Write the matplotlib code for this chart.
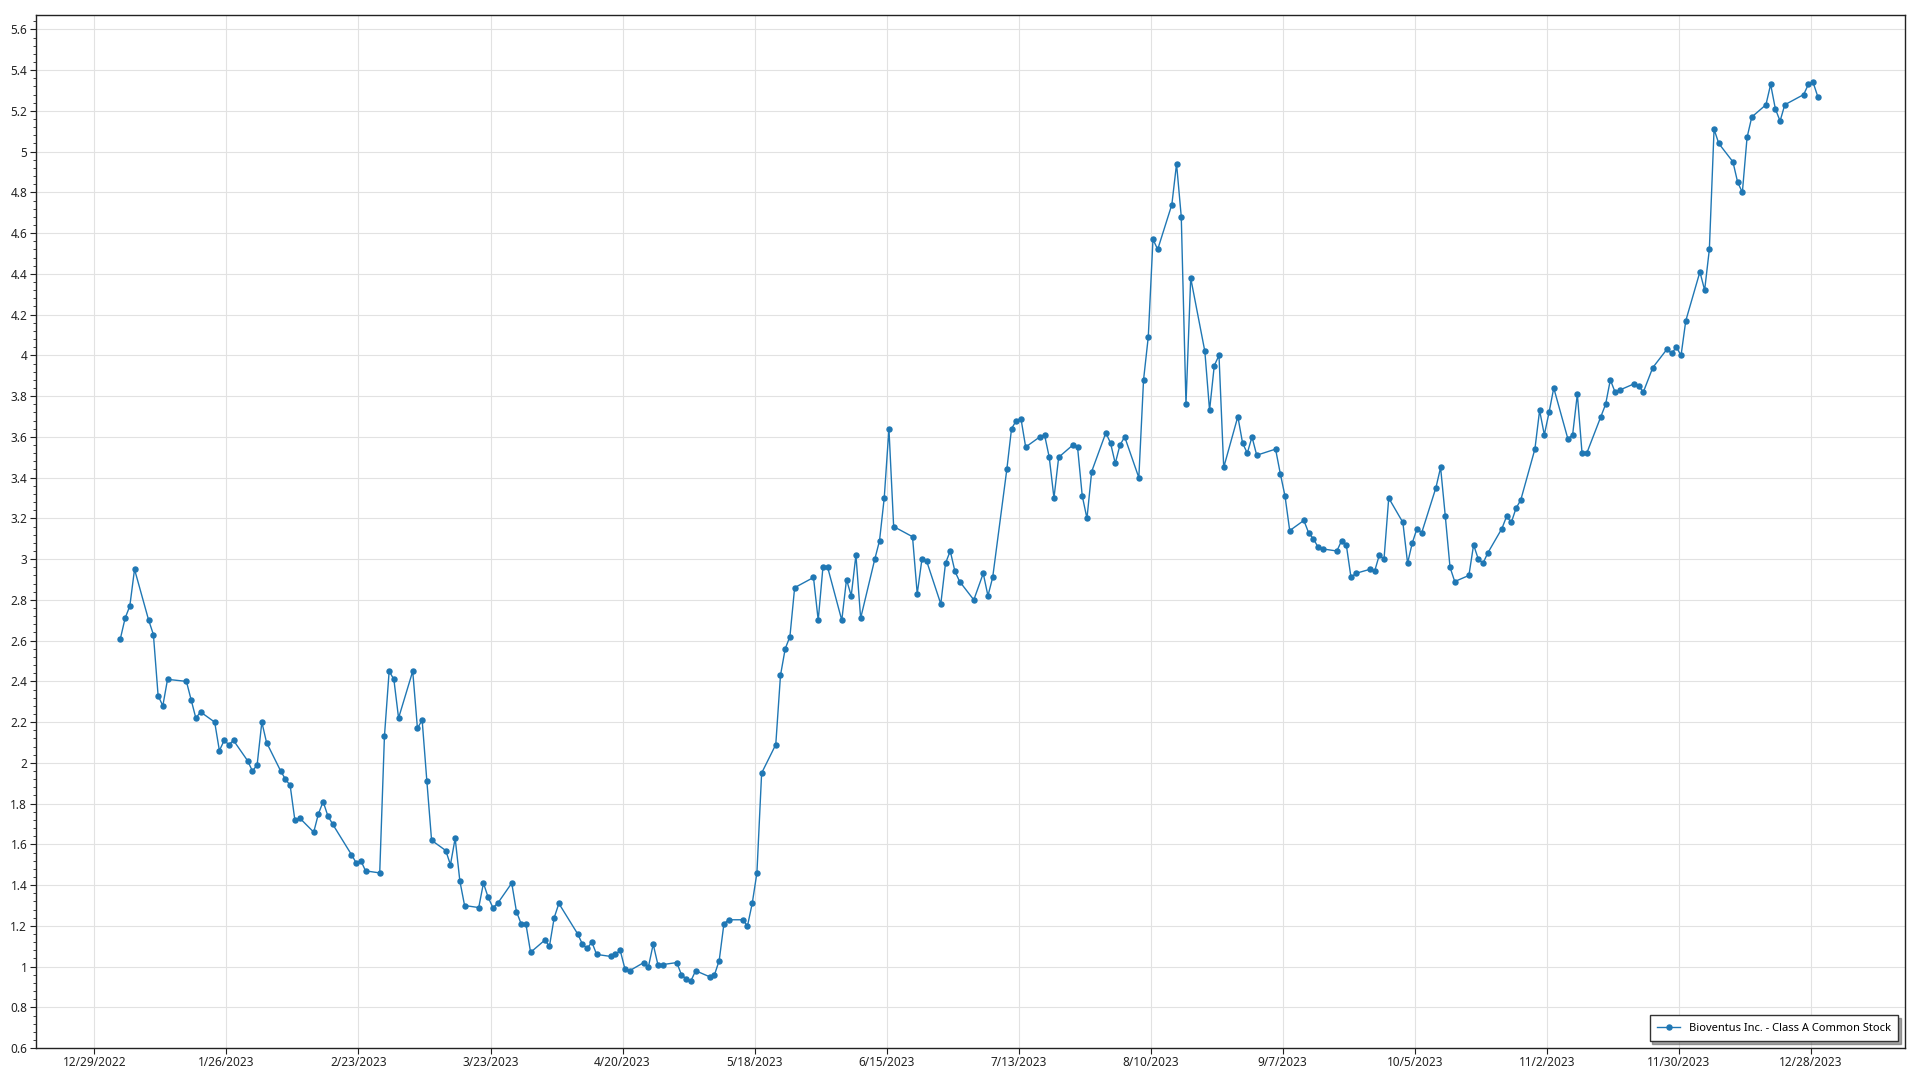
import matplotlib
matplotlib.use('Agg')
import matplotlib.pyplot as plt
import matplotlib.ticker as mticker
import pandas as pd

# NYSE holidays 2023 (no trading)
holidays = ['2023-01-02', '2023-01-16', '2023-02-20', '2023-04-07', '2023-05-29',
            '2023-06-19', '2023-07-04', '2023-09-04', '2023-11-23', '2023-12-25']

# closing prices, one list per month
jan = [2.61, 2.71, 2.77, 2.95, 2.70, 2.63, 2.33, 2.28, 2.41, 2.40, 2.31, 2.22, 2.25,
       2.20, 2.06, 2.11, 2.09, 2.11, 2.01, 1.96]
feb = [1.99, 2.20, 2.10, 1.96, 1.92, 1.89, 1.72, 1.73, 1.66, 1.75, 1.81, 1.74, 1.70,
       1.55, 1.51, 1.52, 1.47, 1.46, 2.13]
mar = [2.45, 2.41, 2.22, 2.45, 2.17, 2.21, 1.91, 1.62, 1.57, 1.50, 1.63, 1.42, 1.30,
       1.29, 1.41, 1.34, 1.29, 1.31, 1.41, 1.27, 1.21, 1.21, 1.07]
apr = [1.13, 1.10, 1.24, 1.31, 1.16, 1.11, 1.09, 1.12, 1.06, 1.05, 1.06, 1.08, 0.99,
       0.98, 1.02, 1.00, 1.11, 1.01, 1.01]
may = [1.02, 0.96, 0.94, 0.93, 0.98, 0.95, 0.96, 1.03, 1.21, 1.23, 1.23, 1.20, 1.31,
       1.46, 1.95, 2.09, 2.43, 2.56, 2.62, 2.86, 2.91, 2.70]
jun = [2.96, 2.96, 2.70, 2.90, 2.82, 3.02, 2.71, 3.00, 3.09, 3.30, 3.64, 3.16, 3.11,
       2.83, 3.00, 2.99, 2.78, 2.98, 3.04, 2.94, 2.89]
jul = [2.80, 2.93, 2.82, 2.91, 3.44, 3.64, 3.68, 3.69, 3.55, 3.60, 3.61, 3.50, 3.30,
       3.50, 3.56, 3.55, 3.31, 3.20, 3.43, 3.62]
aug = [3.57, 3.47, 3.56, 3.60, 3.40, 3.88, 4.09, 4.57, 4.52, 4.74, 4.94, 4.68, 3.76,
       4.38, 4.02, 3.73, 3.95, 4.00, 3.45, 3.70, 3.57, 3.52, 3.60]
sep = [3.51, 3.54, 3.42, 3.31, 3.14, 3.19, 3.13, 3.10, 3.06, 3.05, 3.04, 3.09, 3.07,
       2.91, 2.93, 2.95, 2.94, 3.02, 3.00, 3.30]
oct = [3.18, 2.98, 3.08, 3.15, 3.13, 3.35, 3.45, 3.21, 2.96, 2.89, 2.92, 3.07, 3.00,
       2.98, 3.03, 3.15, 3.21, 3.18, 3.25, 3.29, 3.54, 3.73]
nov = [3.61, 3.72, 3.84, 3.59, 3.61, 3.81, 3.52, 3.52, 3.70, 3.76, 3.88, 3.82, 3.83,
       3.86, 3.85, 3.82, 3.94, 4.03, 4.01, 4.04, 4.00]
dec = [4.17, 4.41, 4.32, 4.52, 5.11, 5.04, 4.95, 4.85, 4.80, 5.07, 5.17, 5.23, 5.33,
       5.21, 5.15, 5.23, 5.28, 5.33, 5.34, 5.27]

prices = jan + feb + mar + apr + may + jun + jul + aug + sep + oct + nov + dec
dates = pd.bdate_range('2023-01-03', '2023-12-29', freq='C', holidays=holidays)
assert len(dates) == len(prices)

tick_dates = pd.date_range('2022-12-29', periods=14, freq='28D')
series_name = 'Bioventus Inc. - Class A Common Stock'

plt.rcParams['font.family'] = ['Noto Sans', 'DejaVu Sans']

fig = plt.figure(figsize=(19.2, 10.8), dpi=100)
ax = fig.add_axes([0.0185, 0.0295, 0.9737, 0.9565])

ax.plot(dates + pd.Timedelta(hours=12), prices, color='#1f77b4', lw=1.0,
        marker='o', markersize=3.6, label=series_name)

ax.set_xlim(pd.Timestamp('2022-12-16 12:00'), pd.Timestamp('2024-01-17'))
ax.set_ylim(0.6, 5.67)

ax.set_xticks(tick_dates)
ax.set_xticklabels([f'{d.month}/{d.day}/{d.year}' for d in tick_dates])
ax.yaxis.set_major_locator(mticker.MultipleLocator(0.2))
ax.yaxis.set_minor_locator(mticker.MultipleLocator(0.04))
ax.yaxis.set_major_formatter(mticker.FuncFormatter(lambda v, p: f'{round(v, 1):g}'))

ax.grid(True, which='major', color='#e2e2e2', lw=0.8)
ax.set_axisbelow(True)
ax.tick_params(axis='both', which='major', labelsize=8.5, length=4, width=0.8,
               colors='#222222', pad=2)
ax.tick_params(axis='y', which='minor', length=2, width=0.6, colors='#222222')
for s in ax.spines.values():
    s.set_color('#222222')
    s.set_linewidth(1.0)

leg = ax.legend(loc='lower right', fontsize=8, frameon=True, fancybox=False,
                shadow=True, edgecolor='#333333', borderaxespad=0.6,
                handlelength=2.0, borderpad=0.7)
leg.get_frame().set_linewidth(1.0)

fig.savefig('out.png', dpi=100)
